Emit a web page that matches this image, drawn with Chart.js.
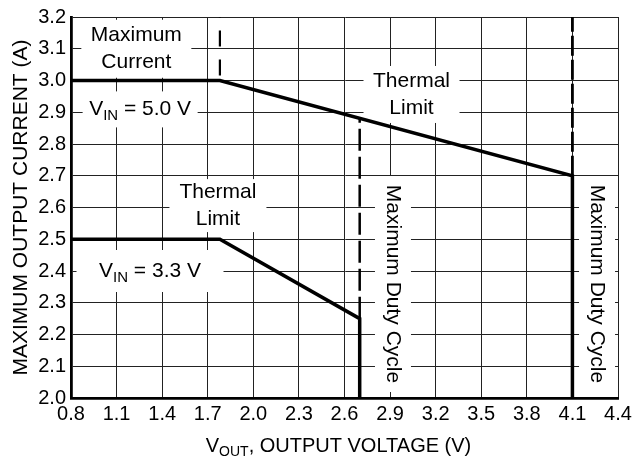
<!DOCTYPE html>
<html>
<head>
<meta charset="utf-8">
<script src="https://cdn.jsdelivr.net/npm/chart.js@4/dist/chart.umd.min.js"></script>
<style>
  html, body { margin: 0; padding: 0; background: #fff; }
</style>
</head>
<body>
<canvas id="chart" width="643" height="460"></canvas>
<script>
// x axis ticks (V) and y axis ticks (A)
const xTicks = [0.8, 1.1, 1.4, 1.7, 2.0, 2.3, 2.6, 2.9, 3.2, 3.5, 3.8, 4.1, 4.4];
const yTicks = [2.0, 2.1, 2.2, 2.3, 2.4, 2.5, 2.6, 2.7, 2.8, 2.9, 3.0, 3.1, 3.2];

// VIN = 5.0 V curve
const vin50X = [0.8, 1.78, 4.1, 4.1];
const vin50Y = [3.0, 3.0, 2.7, 2.0];
// VIN = 3.3 V curve
const vin33X = [0.8, 1.78, 2.7, 2.7];
const vin33Y = [2.5, 2.5, 2.25, 2.0];
// dashed limit lines
const maxCurrentX = [1.78, 1.78];
const maxCurrentY = [3.0, 3.2];
const duty33X = [2.7, 2.7];
const duty33Y = [2.25, 2.88];
const duty50X = [4.1, 4.1];
const duty50Y = [2.7, 3.2];

const FONT = "'Liberation Sans', Arial, Helvetica, sans-serif";

function pts(xs, ys) {
    return xs.map((x, i) => ({ x: x, y: ys[i] }));
}

// annotation texts, anchored in data coordinates, box size in px
const notes = [
    { lines: [[{ t: "Maximum" }], [{ t: "Current" }]], x: 1.23, y: 3.1, w: 110, h: 58 },
    { lines: [[{ t: "V" }, { t: "IN", sub: true }, { t: " = 5.0 V" }]], x: 1.255, y: 2.909, w: 115, h: 36 },
    { lines: [[{ t: "Thermal" }], [{ t: "Limit" }]], x: 3.041, y: 2.956, w: 96, h: 57 },
    { lines: [[{ t: "Thermal" }], [{ t: "Limit" }]], x: 1.767, y: 2.606, w: 97, h: 53 },
    { lines: [[{ t: "V" }, { t: "IN", sub: true }, { t: " = 3.3 V" }]], x: 1.32, y: 2.4, w: 147, h: 42 },
    { lines: [[{ t: "Maximum Duty Cycle" }]], x: 2.919, y: 2.359, w: 36, h: 216, rot: true },
    { lines: [[{ t: "Maximum Duty Cycle" }]], x: 4.262, y: 2.359, w: 36, h: 216, rot: true },
];

function segWidth(ctx, segs, size) {
    let w = 0;
    segs.forEach(s => {
        ctx.font = (s.sub ? Math.round(size * 0.72) : size) + "px " + FONT;
        w += ctx.measureText(s.t).width;
    });
    return w;
}

function drawSegs(ctx, segs, cx, cy, size) {
    let w = segWidth(ctx, segs, size);
    let x = cx - w / 2;
    ctx.textAlign = "left";
    ctx.textBaseline = "middle";
    segs.forEach(s => {
        const fs = s.sub ? Math.round(size * 0.72) : size;
        ctx.font = fs + "px " + FONT;
        ctx.fillText(s.t, x, s.sub ? cy + size * 0.32 : cy);
        x += ctx.measureText(s.t).width;
    });
}

const notesPlugin = {
    id: "notes",
    beforeDatasetsDraw(chart) {
        const ctx = chart.ctx;
        const xs = chart.scales.x, ys = chart.scales.y;
        ctx.save();
        notes.forEach(n => {
            const cx = xs.getPixelForValue(n.x);
            const cy = ys.getPixelForValue(n.y);
            ctx.fillStyle = "#fff";
            ctx.fillRect(cx - n.w / 2, cy - n.h / 2, n.w, n.h);
            ctx.fillStyle = "#000";
            if (n.rot) {
                ctx.save();
                ctx.translate(cx, cy);
                ctx.rotate(Math.PI / 2);
                drawSegs(ctx, n.lines[0], 0, 0, 21);
                ctx.restore();
            } else {
                const lh = 27;
                const top = cy - (n.lines.length - 1) * lh / 2;
                n.lines.forEach((segs, i) => drawSegs(ctx, segs, cx, top + i * lh, 21));
            }
        });
        ctx.restore();
    },
    afterDraw(chart) {
        const ctx = chart.ctx;
        const area = chart.chartArea;
        ctx.save();
        ctx.fillStyle = "#000";
        // y axis title
        ctx.save();
        ctx.translate(21, (area.top + area.bottom) / 2);
        ctx.rotate(-Math.PI / 2);
        ctx.font = "21px " + FONT;
        ctx.textAlign = "center";
        ctx.textBaseline = "middle";
        ctx.fillText("MAXIMUM OUTPUT CURRENT (A)", 0, 0);
        ctx.restore();
        // x axis title with subscript
        drawSegs(ctx, [{ t: "V" }, { t: "OUT", sub: true }, { t: ", OUTPUT VOLTAGE (V)" }],
            (area.left + area.right) / 2 - 6, 446, 20);
        ctx.restore();
    }
};

const ctx = document.getElementById("chart").getContext("2d");
new Chart(ctx, {
    type: "scatter",
    data: {
        datasets: [
            {
                label: "VIN = 5.0 V",
                data: pts(vin50X, vin50Y),
                showLine: true,
                borderColor: "#000",
                borderWidth: 3.5,
                pointRadius: 0,
            },
            {
                label: "VIN = 3.3 V",
                data: pts(vin33X, vin33Y),
                showLine: true,
                borderColor: "#000",
                borderWidth: 3.5,
                pointRadius: 0,
            },
            {
                label: "Maximum Current",
                data: pts(maxCurrentX, maxCurrentY),
                showLine: true,
                borderColor: "#000",
                borderWidth: 2.2,
                borderDash: [16, 13],
                borderDashOffset: 24,
                pointRadius: 0,
            },
            {
                label: "Duty 3.3",
                data: pts(duty33X, duty33Y),
                showLine: true,
                borderColor: "#000",
                borderWidth: 2.5,
                borderDash: [22, 6],
                pointRadius: 0,
            },
            {
                label: "Duty 5.0",
                data: pts(duty50X, duty50Y),
                showLine: true,
                borderColor: "#000",
                borderWidth: 2.8,
                borderDash: [20, 4],
                pointRadius: 0,
            },
        ],
    },
    options: {
        responsive: false,
        animation: false,
        devicePixelRatio: 1,
        layout: { padding: { top: 14, right: 25, left: 0, bottom: 0 } },
        plugins: {
            legend: { display: false },
            tooltip: { enabled: false },
        },
        scales: {
            x: {
                type: "linear",
                min: xTicks[0],
                max: xTicks[xTicks.length - 1],
                afterBuildTicks: (s) => { s.ticks = xTicks.map(v => ({ value: v })); },
                afterFit: (s) => { s.height = 62; },
                ticks: {
                    color: "#000",
                    font: { family: FONT, size: 20 },
                    padding: 4,
                    maxRotation: 0,
                    autoSkip: false,
                    callback: (v) => Number(v).toFixed(1),
                },
                grid: { color: "#222", lineWidth: 1, drawTicks: false },
                border: { color: "#000", width: 2.8 },
            },
            y: {
                type: "linear",
                min: yTicks[0],
                max: yTicks[yTicks.length - 1],
                afterBuildTicks: (s) => { s.ticks = yTicks.map(v => ({ value: v })); },
                afterFit: (s) => { s.width = 71; },
                ticks: {
                    color: "#000",
                    font: { family: FONT, size: 20 },
                    padding: 5,
                    autoSkip: false,
                    callback: (v) => Number(v).toFixed(1),
                },
                grid: { color: "#222", lineWidth: 1, drawTicks: false },
                border: { color: "#000", width: 2.8 },
            },
        },
    },
    plugins: [notesPlugin],
});
</script>
</body>
</html>
